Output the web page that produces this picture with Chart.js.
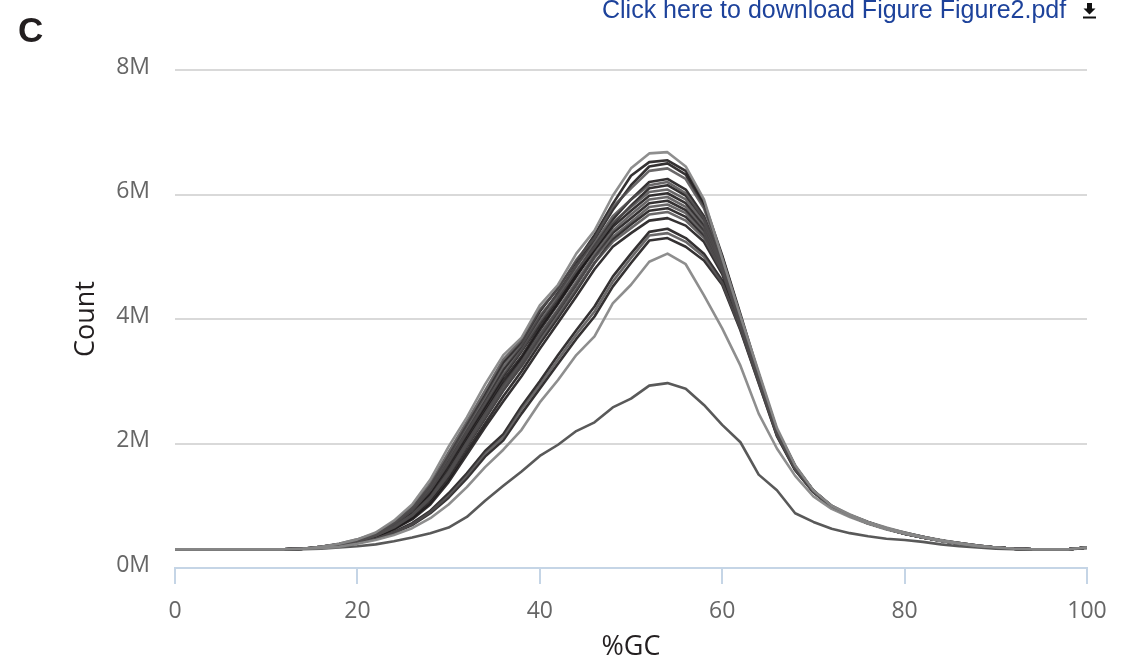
<!DOCTYPE html>
<html>
<head>
<meta charset="utf-8">
<title>GC content</title>
<script src="https://cdn.jsdelivr.net/npm/chart.js@4.4.1/dist/chart.umd.min.js"></script>
<style>
  html, body { margin: 0; padding: 0; background: #fff; }
  .wrap { position: relative; width: 1140px; height: 664px; overflow: hidden; }
  #gcChart { position: absolute; left: 0; top: 0; }
  .panel-letter {
    position: absolute; left: 18px; top: 12px;
    font: bold 35px "Liberation Sans", Arial, sans-serif; line-height: 35px; color: #231f20;
  }
  .download {
    position: absolute; left: 602px; top: -3px;
    font: 25px "Liberation Sans", Arial, sans-serif; line-height: 25px; color: #1d429b;
    white-space: nowrap;
  }
  .download-icon { position: absolute; left: 1082px; top: 2px; }
</style>
</head>
<body>
<div class="wrap">
  <canvas id="gcChart" width="1140" height="664"></canvas>
  <div class="panel-letter">C</div>
  <div class="download">Click here to download Figure Figure2.pdf</div>
  <svg class="download-icon" width="15" height="17" viewBox="0 0 15 17">
    <polygon points="5,1 10,1 10,6.5 13.5,6.5 7.5,12.5 1.5,6.5 5,6.5" fill="#111"/>
    <rect x="1" y="14.5" width="13" height="2" fill="#111"/>
  </svg>
</div>
<script>
// %GC bins (x axis)
const gcBins = [0, 2, 4, 6, 8, 10, 12, 14, 16, 18, 20, 22, 24, 26, 28, 30, 32, 34, 36, 38, 40,
  42, 44, 46, 48, 50, 52, 54, 56, 58, 60, 62, 64, 66, 68, 70, 72, 74, 76, 78, 80,
  82, 84, 86, 88, 90, 92, 94, 96, 98, 100];

const yTicks = [0, 2, 4, 6, 8];   // millions
const xTicks = [0, 20, 40, 60, 80, 100];

// read counts, in millions, one array per sample
const s1 = [.30, .30, .30, .30, .30, .30, .30, .31, .34, .39, .46, .57, .76, 1.02, 1.42, 1.95, 2.42, 2.95, 3.42, 3.70, 4.22,
  4.55, 5.05, 5.42, 5.98, 6.42, 6.66, 6.68, 6.45, 5.92, 4.98, 4.05, 3.15, 2.25, 1.65, 1.25, 1.00, .86, .74, .65, .57,
  .50, .45, .40, .36, .33, .31, .30, .30, .30, .33];
const s2 = [.30, .30, .30, .30, .30, .30, .30, .31, .34, .38, .45, .55, .72, .95, 1.32, 1.80, 2.30, 2.78, 3.30, 3.62, 4.12,
  4.50, 4.92, 5.35, 5.85, 6.30, 6.52, 6.55, 6.38, 5.88, 5.02, 4.08, 3.12, 2.22, 1.64, 1.24, 1.00, .85, .74, .64, .57,
  .50, .44, .40, .36, .33, .31, .30, .30, .30, .33];
const s3 = [.30, .30, .30, .30, .30, .30, .30, .31, .34, .38, .44, .54, .70, .92, 1.25, 1.72, 2.20, 2.68, 3.18, 3.55, 4.02,
  4.42, 4.85, 5.28, 5.75, 6.15, 6.45, 6.50, 6.32, 5.82, 5.00, 4.05, 3.10, 2.20, 1.63, 1.24, .99, .85, .73, .64, .56,
  .50, .44, .40, .36, .33, .31, .30, .30, .30, .33];
const s4 = [.30, .30, .30, .30, .30, .30, .30, .31, .34, .39, .46, .56, .74, .98, 1.36, 1.86, 2.35, 2.85, 3.35, 3.66, 4.15,
  4.48, 4.95, 5.30, 5.80, 6.10, 6.38, 6.42, 6.25, 5.78, 4.95, 4.02, 3.12, 2.22, 1.64, 1.23, .99, .85, .73, .64, .56,
  .50, .44, .40, .36, .33, .31, .30, .30, .30, .33];
const s5 = [.30, .30, .30, .30, .30, .30, .30, .31, .33, .38, .44, .54, .69, .90, 1.22, 1.66, 2.14, 2.60, 3.08, 3.48, 3.92,
  4.32, 4.75, 5.18, 5.60, 5.92, 6.20, 6.25, 6.08, 5.65, 4.92, 4.00, 3.08, 2.20, 1.62, 1.24, .99, .84, .73, .64, .56,
  .49, .44, .39, .35, .33, .31, .30, .30, .30, .33];
const s6 = [.30, .30, .30, .30, .30, .30, .30, .31, .34, .38, .45, .55, .72, .96, 1.30, 1.78, 2.26, 2.74, 3.24, 3.58, 4.05,
  4.40, 4.85, 5.22, 5.65, 5.92, 6.15, 6.20, 6.02, 5.62, 4.90, 4.00, 3.08, 2.20, 1.62, 1.24, .99, .85, .73, .64, .56,
  .49, .44, .39, .35, .33, .31, .30, .30, .30, .33];
const s7 = [.30, .30, .30, .30, .30, .30, .30, .31, .33, .37, .44, .53, .67, .86, 1.15, 1.56, 2.04, 2.50, 2.96, 3.36, 3.82,
  4.24, 4.68, 5.12, 5.52, 5.82, 6.10, 6.15, 5.98, 5.60, 4.88, 3.98, 3.06, 2.18, 1.62, 1.24, .99, .84, .73, .63, .56,
  .49, .44, .39, .35, .33, .31, .30, .30, .30, .33];
const s8 = [.30, .30, .30, .30, .30, .30, .30, .31, .34, .38, .44, .54, .70, .92, 1.25, 1.70, 2.18, 2.65, 3.12, 3.50, 3.96,
  4.35, 4.78, 5.15, 5.55, 5.80, 6.04, 6.08, 5.92, 5.55, 4.86, 3.98, 3.06, 2.18, 1.61, 1.24, .99, .84, .73, .63, .56,
  .49, .44, .39, .35, .33, .31, .30, .30, .30, .33];
const s9 = [.30, .30, .30, .30, .30, .30, .30, .31, .33, .37, .44, .53, .68, .88, 1.18, 1.60, 2.08, 2.55, 3.02, 3.40, 3.86,
  4.26, 4.70, 5.10, 5.48, 5.74, 5.98, 6.02, 5.86, 5.50, 4.85, 3.96, 3.05, 2.18, 1.61, 1.24, .99, .84, .73, .63, .56,
  .49, .44, .39, .35, .33, .31, .30, .30, .30, .33];
const s10 = [.30, .30, .30, .30, .30, .30, .30, .31, .33, .37, .43, .52, .66, .85, 1.13, 1.52, 2.00, 2.45, 2.90, 3.30, 3.75,
  4.16, 4.60, 5.04, 5.42, 5.68, 5.92, 5.96, 5.80, 5.46, 4.84, 3.95, 3.05, 2.17, 1.61, 1.24, .99, .84, .72, .63, .56,
  .49, .44, .39, .35, .33, .31, .30, .30, .30, .33];
const s11 = [.30, .30, .30, .30, .30, .30, .30, .31, .33, .37, .43, .52, .65, .83, 1.10, 1.48, 1.95, 2.40, 2.85, 3.25, 3.70,
  4.12, 4.55, 5.00, 5.38, 5.62, 5.86, 5.90, 5.75, 5.42, 4.82, 3.94, 3.04, 2.17, 1.60, 1.23, .99, .84, .72, .63, .55,
  .49, .44, .39, .35, .33, .31, .30, .30, .30, .33];
const s12 = [.30, .30, .30, .30, .30, .30, .30, .31, .33, .37, .43, .52, .66, .86, 1.14, 1.55, 2.02, 2.48, 2.93, 3.30, 3.74,
  4.14, 4.56, 4.98, 5.32, 5.56, 5.80, 5.84, 5.70, 5.38, 4.80, 3.93, 3.04, 2.16, 1.60, 1.23, .99, .84, .72, .63, .55,
  .49, .44, .39, .35, .33, .31, .30, .30, .30, .33];
const s13 = [.30, .30, .30, .30, .30, .30, .30, .31, .33, .36, .42, .51, .63, .80, 1.05, 1.42, 1.88, 2.32, 2.76, 3.16, 3.60,
  4.02, 4.45, 4.90, 5.28, 5.52, 5.74, 5.78, 5.64, 5.34, 4.78, 3.92, 3.03, 2.16, 1.60, 1.23, .98, .84, .72, .63, .55,
  .49, .44, .39, .35, .33, .31, .30, .30, .30, .33];
const s14 = [.30, .30, .30, .30, .30, .30, .30, .31, .33, .37, .43, .52, .65, .84, 1.12, 1.50, 1.97, 2.42, 2.86, 3.24, 3.66,
  4.06, 4.48, 4.90, 5.24, 5.46, 5.68, 5.72, 5.58, 5.30, 4.76, 3.91, 3.03, 2.16, 1.60, 1.23, .98, .84, .72, .63, .55,
  .49, .44, .39, .35, .33, .31, .30, .30, .30, .33];
const s15 = [.30, .30, .30, .30, .30, .30, .30, .31, .33, .36, .42, .50, .62, .78, 1.02, 1.38, 1.82, 2.26, 2.68, 3.08, 3.52,
  3.94, 4.36, 4.80, 5.16, 5.38, 5.58, 5.62, 5.50, 5.24, 4.72, 3.90, 3.02, 2.15, 1.59, 1.23, .98, .84, .72, .63, .55,
  .49, .44, .39, .35, .33, .31, .30, .30, .30, .33];
const s16 = [.30, .30, .30, .30, .30, .30, .30, .31, .32, .35, .40, .48, .58, .72, .92, 1.20, 1.52, 1.88, 2.15, 2.60, 3.00,
  3.42, 3.82, 4.20, 4.68, 5.05, 5.40, 5.45, 5.30, 5.05, 4.62, 3.85, 3.00, 2.14, 1.58, 1.22, .98, .84, .72, .63, .55,
  .49, .44, .39, .35, .33, .31, .30, .30, .30, .33];
const s17 = [.30, .30, .30, .30, .30, .30, .30, .31, .32, .35, .40, .47, .57, .70, .90, 1.16, 1.48, 1.84, 2.10, 2.55, 2.94,
  3.35, 3.75, 4.12, 4.60, 4.98, 5.34, 5.38, 5.24, 5.00, 4.58, 3.84, 2.98, 2.13, 1.58, 1.22, .98, .84, .72, .63, .55,
  .49, .44, .39, .35, .33, .31, .30, .30, .30, .33];
const s18 = [.30, .30, .30, .30, .30, .30, .30, .31, .32, .35, .40, .47, .56, .69, .88, 1.13, 1.44, 1.79, 2.05, 2.48, 2.88,
  3.28, 3.68, 4.04, 4.52, 4.90, 5.26, 5.30, 5.16, 4.94, 4.55, 3.82, 2.97, 2.12, 1.57, 1.22, .98, .84, .72, .63, .55,
  .49, .44, .39, .35, .33, .31, .30, .30, .30, .33];
const s19 = [.30, .30, .30, .30, .30, .30, .30, .31, .32, .34, .39, .45, .53, .64, .80, 1.02, 1.30, 1.62, 1.90, 2.22, 2.66,
  3.02, 3.42, 3.72, 4.25, 4.55, 4.92, 5.05, 4.88, 4.38, 3.85, 3.25, 2.48, 1.92, 1.48, 1.15, .95, .82, .71, .62, .55,
  .49, .43, .39, .35, .33, .31, .30, .30, .30, .33];
const s20 = [.30, .30, .30, .30, .30, .30, .30, .30, .31, .33, .35, .38, .43, .49, .56, .65, .82, 1.08, 1.32, 1.55, 1.80,
  1.98, 2.20, 2.34, 2.58, 2.72, 2.93, 2.97, 2.88, 2.62, 2.30, 2.02, 1.50, 1.25, .88, .74, .63, .56, .51, .47, .45,
  .42, .38, .35, .33, .31, .30, .30, .30, .30, .32];

const samples = [s19, s20, s1, s4, s6, s8, s10, s12, s14, s17, s2, s3, s5, s7, s9, s11, s13, s15, s16, s18];
const shades = ['light', 'bottom', 'light', 'mid', 'mid', 'mid', 'mid', 'mid', 'mid', 'mid',
  'dark', 'dark', 'dark', 'dark', 'dark', 'dark', 'dark', 'dark', 'dark', 'dark'];

const shadeColor = {
  light: 'rgba(136, 136, 136, 0.95)',
  bottom: 'rgba(80, 80, 80, 0.95)',
  mid: 'rgba(80, 78, 79, 0.85)',
  dark: 'rgba(30, 27, 28, 0.9)'
};

document.addEventListener('DOMContentLoaded', function () {
    const ctx = document.getElementById('gcChart').getContext('2d');
    const tickFont = { family: '"Open Sans", sans-serif', size: 23 };
    const titleFont = { family: '"Open Sans", sans-serif', size: 27 };

    const datasets = samples.map((values, i) => ({
        data: values.map((v, j) => ({ x: gcBins[j], y: v })),
        borderColor: shadeColor[shades[i]],
        borderWidth: 2.6,
        pointRadius: 0,
        tension: 0,
        fill: false,
        borderJoinStyle: 'round'
    }));

    new Chart(ctx, {
        type: 'line',
        data: { datasets: datasets },
        options: {
            responsive: false,
            animation: false,
            layout: { padding: { top: 70, right: 53, left: 0, bottom: 0 } },
            plugins: { legend: { display: false }, tooltip: { enabled: false } },
            scales: {
                x: {
                    type: 'linear',
                    min: xTicks[0],
                    max: xTicks[xTicks.length - 1],
                    afterBuildTicks: scale => { scale.ticks = xTicks.map(v => ({ value: v })); },
                    afterFit: scale => { scale.height = 96; },
                    ticks: { color: '#666', font: tickFont, padding: 14 },
                    grid: { drawOnChartArea: false, color: '#c5d5e6', lineWidth: 2, tickLength: 16 },
                    border: { color: '#c5d5e6', width: 2 },
                    title: { display: true, text: '%GC', color: '#231f20', font: titleFont, padding: { top: 0, bottom: 0 } }
                },
                y: {
                    min: yTicks[0],
                    max: yTicks[yTicks.length - 1],
                    afterBuildTicks: scale => { scale.ticks = yTicks.map(v => ({ value: v })); },
                    afterFit: scale => { scale.width = 175; },
                    ticks: { color: '#666', font: tickFont, padding: 25, labelOffset: -3, callback: v => v + 'M' },
                    grid: {
                        color: c => (c.tick && c.tick.value === 0 ? 'rgba(0,0,0,0)' : '#d9d9d9'),
                        lineWidth: 2,
                        drawTicks: false
                    },
                    border: { display: false },
                    title: { display: true, text: 'Count', color: '#231f20', font: titleFont, padding: { top: 70, bottom: 0 } }
                }
            }
        }
    });
});
</script>
</body>
</html>
